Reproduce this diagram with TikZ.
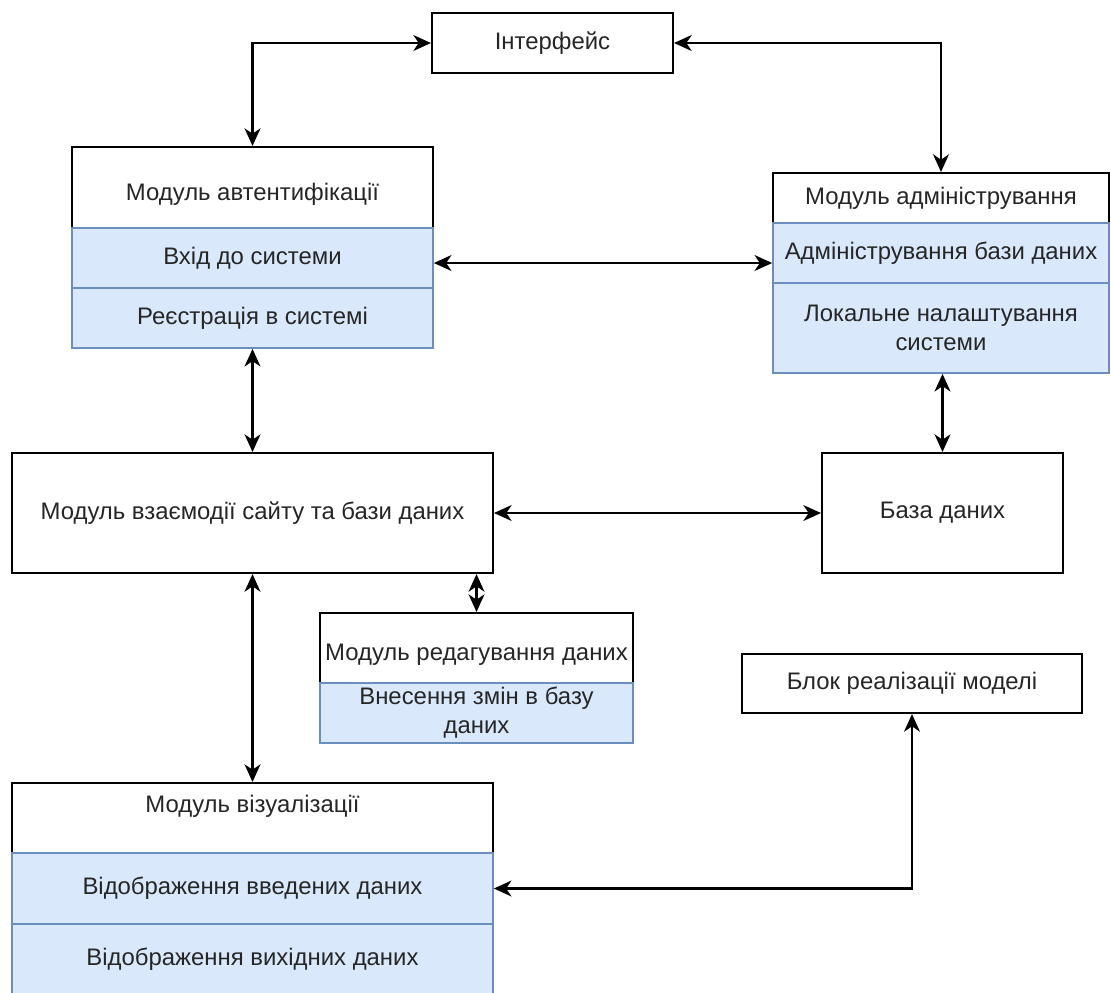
\documentclass[tikz,border=0pt]{standalone}
\usepackage{fontspec}
\setmainfont{Liberation Sans}
\usetikzlibrary{arrows.meta,calc}
\definecolor{rowfill}{HTML}{DAE8FC}
\definecolor{rowline}{HTML}{6C8EBF}
\definecolor{txt}{HTML}{262626}
\newcommand{\lblfont}{\fontsize{13.6}{16.5}\selectfont}
\begin{document}
\begin{tikzpicture}[x=0.02cm,y=-0.02cm,
  box/.style={rectangle,draw=black,line width=1.2pt,fill=white,inner sep=2pt,text=txt,font=\lblfont,align=center},
  rowbox/.style={box,draw=rowline,fill=rowfill,line width=1pt},
  lbl/.style={text=txt,font=\lblfont,align=center,inner sep=0pt},
  tip/.tip={Stealth[length=10pt,width=9pt,inset=3pt]},
  conn/.style={line width=1.4pt,tip-tip}]
\useasboundingbox (0,0) rectangle (1111,992);
\clip (0,0) rectangle (1111,992);
\fill[white] (0,0) rectangle (1111,992);

% Interface
\node[box,minimum width=4.82cm,minimum height=1.2cm] (iface) at (552.5,43) {Інтерфейс};

% Authentication module
\node[box,minimum width=7.22cm,minimum height=1.62cm] (auth) at (252.5,187.5) {};
\node[lbl] (authtitle) at (252.5,194) {Модуль автентифікації};
\node[rowbox,minimum width=7.22cm,minimum height=1.2cm] (auth1) at (252.5,258) {Вхід до системи};
\node[rowbox,minimum width=7.22cm,minimum height=1.2cm] (auth2) at (252.5,318) {Реєстрація в системі};

% Administration module
\node[box,minimum width=6.72cm,minimum height=1.0cm] (admin) at (941,198) {Модуль адміністрування};
\node[rowbox,minimum width=6.72cm,minimum height=1.2cm] (admin1) at (941,253) {Адміністрування бази даних};
\node[rowbox,minimum width=6.72cm,minimum height=1.8cm] (admin2) at (941,328) {Локальне налаштування\\системи};

% Site / DB interaction module
\node[box,minimum width=9.62cm,minimum height=2.4cm] (site) at (252.5,513) {Модуль взаємодії сайту та бази даних};

% Database
\node[box,minimum width=4.82cm,minimum height=2.4cm] (db) at (942.5,513) {База даних};

% Editing module
\node[box,minimum width=6.26cm,minimum height=1.4cm] (edit) at (476.5,648) {};
\node[lbl] (edittitle) at (476.5,655) {Модуль редагування даних};
\node[rowbox,minimum width=6.26cm,minimum height=1.2cm] (edit1) at (476.5,713) {Внесення змін в базу\\даних};

% Model block
\node[box,minimum width=6.8cm,minimum height=1.18cm] (block) at (912,683.5) {Блок реалізації моделі};

% Visualisation module
\node[box,minimum width=9.62cm,minimum height=1.4cm] (vis) at (252.5,818) {};
\node[lbl] (vistitle) at (252.5,806) {Модуль візуалізації};
\node[rowbox,minimum width=9.62cm,minimum height=1.42cm] (vis1) at (252.5,888.5) {Відображення введених даних};
\node[rowbox,minimum width=9.62cm,minimum height=1.42cm] (vis2) at (252.5,959.5) {Відображення вихідних даних};

% Connectors
\coordinate (r1) at (0,263);
\draw[conn] (iface.west) -| (auth.north);
\draw[conn] (iface.east) -| (admin.north);
\draw[conn] (auth1.east |- r1) -- (admin1.west |- r1);
\draw[conn] (auth2.south) -- (site.north);
\draw[conn] (site.east) -- (db.west);
\draw[conn] (admin2.south -| db.north) -- (db.north);
\draw[conn] (site.south -| edit.north) -- (edit.north);
\draw[conn] (site.south) -- (vis.north);
\draw[conn] (block.south) |- (vis1.east);
\end{tikzpicture}
\end{document}
